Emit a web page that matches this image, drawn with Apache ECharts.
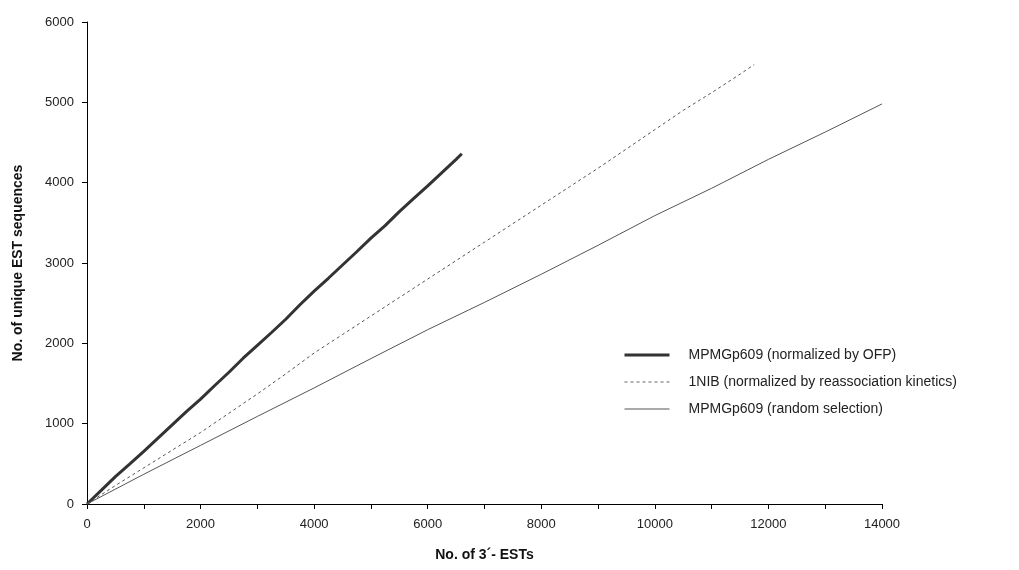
<!DOCTYPE html>
<html>
<head>
    <meta charset="utf-8">
    <title>EST discovery curves</title>
    <script src="https://cdn.jsdelivr.net/npm/echarts@6/dist/echarts.min.js"></script>
    <style>
        html, body { margin: 0; padding: 0; background: #fff; }
        #main { width: 1019px; height: 570px; }
    </style>
</head>
<body>
<div id="main"></div>
<script>
// series names (legend)
const seriesNames = [
    'MPMGp609 (normalized by OFP)',
    '1NIB (normalized by reassociation kinetics)',
    'MPMGp609 (random selection)'
];

// MPMGp609 normalized by OFP: [no. of 3' ESTs, unique sequences]
const ofpX = [0, 250, 500, 750, 1000, 1250, 1500, 1750, 2000, 2250, 2500, 2750, 3000, 3250,
              3500, 3750, 4000, 4250, 4500, 4750, 5000, 5250, 5500, 5750, 6000, 6250, 6500, 6600];
const ofpY = [0, 170, 340, 495, 655, 820, 985, 1150, 1305, 1475, 1640, 1815, 1975, 2135,
              2300, 2480, 2650, 2810, 2975, 3140, 3310, 3465, 3640, 3800, 3960, 4125, 4290, 4360];

// 1NIB normalized by reassociation kinetics
const nibX = [0, 500, 1000, 1500, 2000, 2500, 3000, 3500, 4000, 4500, 5000, 5500, 6000,
              6500, 7000, 7500, 8000, 8500, 9000, 9500, 10000, 10500, 11000, 11500, 11750];
const nibY = [0, 230, 450, 670, 890, 1130, 1370, 1620, 1880, 2110, 2340, 2570, 2800,
              3030, 3260, 3490, 3720, 3950, 4180, 4420, 4660, 4900, 5120, 5350, 5470];

// MPMGp609 random selection
const rndX = [0, 1000, 2000, 3000, 4000, 5000, 6000, 7000, 8000, 9000, 10000, 11000, 12000, 13000, 14000];
const rndY = [0, 370, 730, 1090, 1445, 1810, 2170, 2510, 2860, 3220, 3590, 3930, 4290, 4630, 4980];

const zip = (xs, ys) => xs.map((x, i) => [x, ys[i]]);

const chart = echarts.init(document.getElementById('main'));
const font = 'Arial, "Liberation Sans", sans-serif';

chart.setOption({
    animation: false,
    textStyle: { fontFamily: font },
    grid: { left: 87, right: 137, top: 22, bottom: 66 },
    legend: {
        orient: 'vertical',
        left: 618,
        top: 343,
        itemWidth: 45,
        itemHeight: 14,
        itemGap: 13,
        itemStyle: { opacity: 0 },
        data: [
            { name: seriesNames[0], lineStyle: { width: 3, color: '#333' } },
            { name: seriesNames[1], lineStyle: { width: 1, color: '#666', type: [3, 3] } },
            { name: seriesNames[2], lineStyle: { width: 1, color: '#555' } }
        ],
        textStyle: { fontSize: 14, color: '#222', padding: [0, 0, 0, 14] }
    },
    xAxis: {
        type: 'value',
        min: 0, max: 14000, interval: 1000,
        name: 'No. of 3\u00b4- ESTs',
        nameLocation: 'middle',
        nameGap: 44,
        nameTextStyle: { fontSize: 14, fontWeight: 'bold', color: '#111' },
        axisLine: { lineStyle: { color: '#000', width: 1 } },
        axisTick: { show: true, length: 5, lineStyle: { color: '#000' } },
        axisLabel: {
            fontSize: 13, color: '#222', margin: 14,
            formatter: v => (v % 2000 === 0 ? String(v) : '')
        },
        splitLine: { show: false }
    },
    yAxis: {
        type: 'value',
        min: 0, max: 6000, interval: 1000,
        name: 'No. of unique EST sequences',
        nameLocation: 'middle',
        nameGap: 62,
        nameTextStyle: { fontSize: 14, fontWeight: 'bold', color: '#111' },
        axisLine: { show: true, lineStyle: { color: '#000', width: 1 } },
        axisTick: { show: true, length: 5, lineStyle: { color: '#000' } },
        axisLabel: { fontSize: 13, color: '#222', margin: 13, formatter: v => String(v) },
        splitLine: { show: false }
    },
    series: [
        {
            name: seriesNames[0], type: 'line', symbol: 'none',
            data: zip(ofpX, ofpY),
            lineStyle: { color: '#333', width: 3 },
            itemStyle: { color: '#333' }
        },
        {
            name: seriesNames[1], type: 'line', symbol: 'none',
            data: zip(nibX, nibY),
            lineStyle: { color: '#555', width: 1, type: [3, 3] },
            itemStyle: { color: '#555' }
        },
        {
            name: seriesNames[2], type: 'line', symbol: 'none',
            data: zip(rndX, rndY),
            lineStyle: { color: '#555', width: 1 },
            itemStyle: { color: '#555' }
        }
    ]
});
</script>
</body>
</html>
